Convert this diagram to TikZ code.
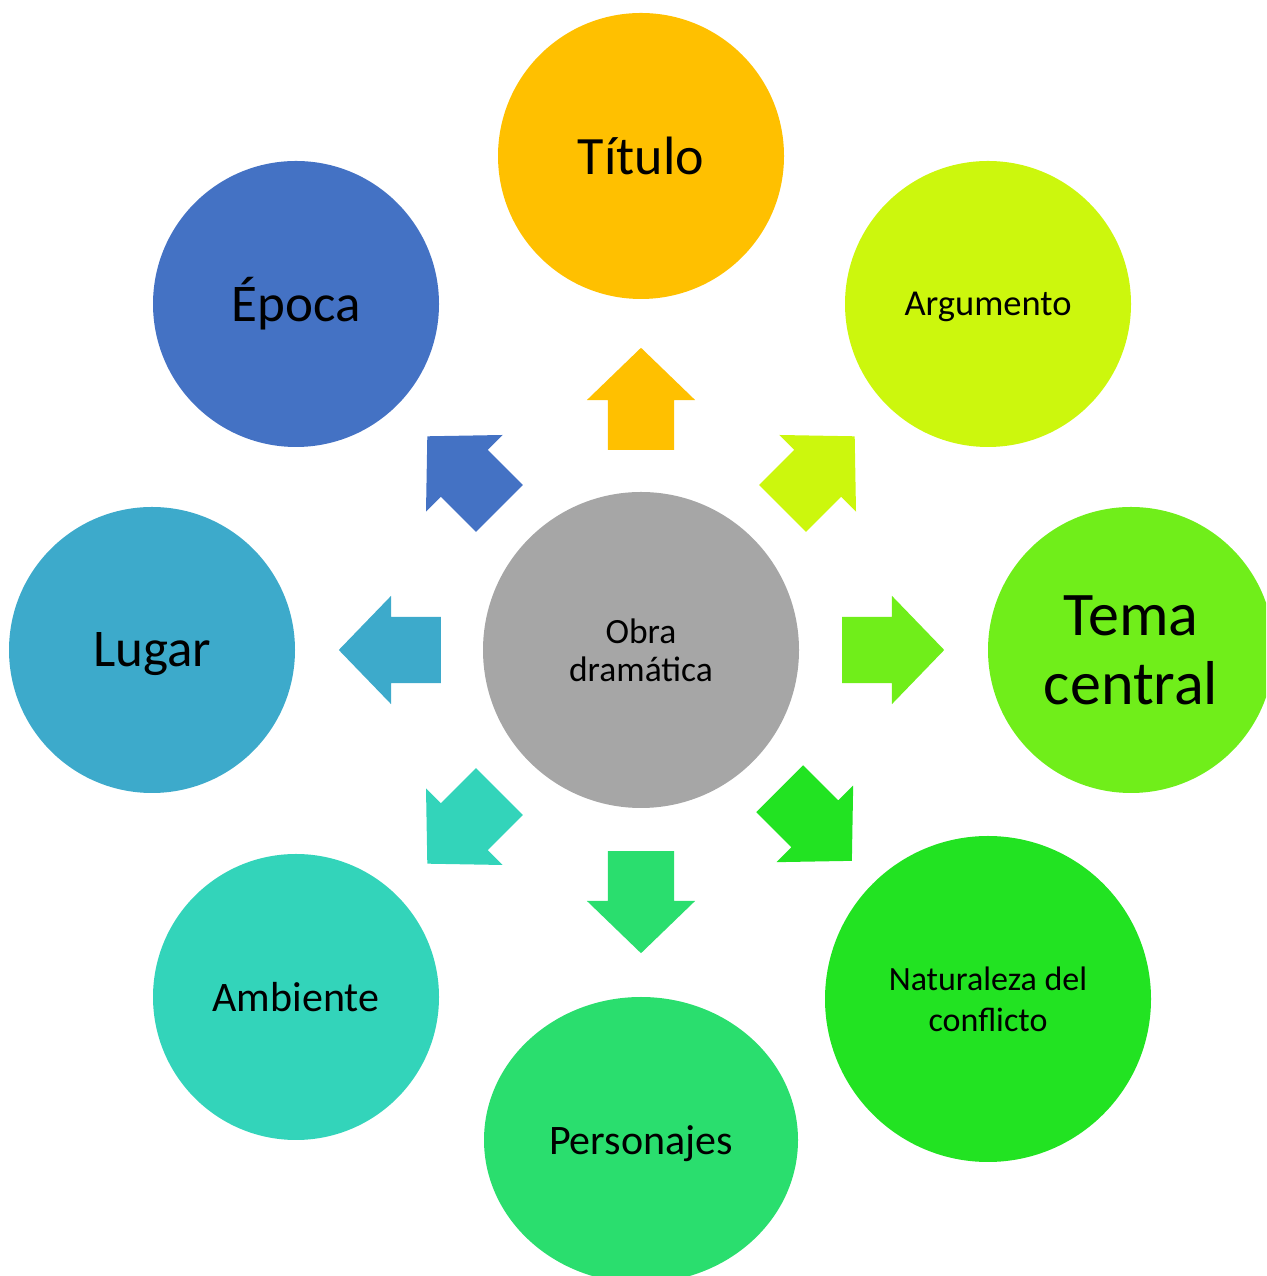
\documentclass[tikz,border=0pt]{standalone}
\usepackage{fontspec}
\setmainfont{Carlito}
\usepackage{tikz}
\usetikzlibrary{shapes.geometric, shapes.arrows, calc}

\definecolor{cobra}{HTML}{A6A6A6}
\definecolor{ctitulo}{HTML}{FFC000}
\definecolor{cargumento}{HTML}{CCF70D}
\definecolor{ctema}{HTML}{70EE1A}
\definecolor{cconflicto}{HTML}{22E322}
\definecolor{cpersonajes}{HTML}{2ADE6E}
\definecolor{cambiente}{HTML}{33D4BA}
\definecolor{clugar}{HTML}{3DAACB}
\definecolor{cepoca}{HTML}{4472C4}

\begin{document}
\begin{tikzpicture}[
    x=1pt, y=1pt,
    bubble/.style={circle, minimum size=286, inner sep=0, align=center},
    pointer/.style={single arrow, draw=none, minimum height=102, inner xsep=0, inner ysep=33,
        single arrow head extend=21, single arrow tip angle=92, anchor=tail}
]
    \useasboundingbox (0,0) rectangle (1266,1276);
    \clip (0,0) rectangle (1266,1276);

    \node[bubble, minimum size=316, fill=cobra, font=\fontsize{35.5}{38}\selectfont] (obra) at (641,626) {Obra\\dramática};

    \node[bubble, fill=ctitulo, font=\fontsize{54}{60}\selectfont] (titulo) at (641,1120) {Título};
    \node[bubble, fill=cargumento, text depth=0, font=\fontsize{36.5}{42}\selectfont] (argumento) at (988,972) {Argumento};
    \node[bubble, fill=ctema, font=\fontsize{62}{69}\selectfont] (tema) at (1131,626) {Tema\\central};
    \node[bubble, minimum size=326, fill=cconflicto, font=\fontsize{34}{41}\selectfont] (conflicto) at (988,277) {Naturaleza del\\conflicto};
    \node[ellipse, minimum width=314, minimum height=286, inner sep=0, text depth=0, fill=cpersonajes, font=\fontsize{42}{48}\selectfont] (personajes) at (641,136) {Personajes};
    \node[bubble, fill=cambiente, font=\fontsize{42}{48}\selectfont] (ambiente) at (296,279) {Ambiente};
    \node[bubble, fill=clugar, text depth=0, font=\fontsize{53}{60}\selectfont] (lugar) at (152,626) {Lugar};
    \node[bubble, fill=cepoca, font=\fontsize{53}{60}\selectfont] (epoca) at (296,972) {Época};

    % arrows out of the hub
    \node[pointer, fill=ctitulo, rotate=90] (p1) at ($(obra.center)+(90:200)$) {};
    \node[pointer, fill=cargumento, rotate=45] (p2) at ($(obra.center)+(45:200)$) {};
    \node[pointer, fill=ctema, rotate=0] (p3) at ($(obra.center)+(0:201)$) {};
    \node[pointer, fill=cconflicto, rotate=-45] (p4) at ($(obra.center)+(-45:196)$) {};
    \node[pointer, fill=cpersonajes, rotate=-90] (p5) at ($(obra.center)+(-90:201)$) {};
    \node[pointer, fill=cambiente, rotate=-135] (p6) at ($(obra.center)+(-135:200)$) {};
    \node[pointer, fill=clugar, rotate=180] (p7) at ($(obra.center)+(180:200)$) {};
    \node[pointer, fill=cepoca, rotate=135] (p8) at ($(obra.center)+(135:200)$) {};
\end{tikzpicture}
\end{document}
